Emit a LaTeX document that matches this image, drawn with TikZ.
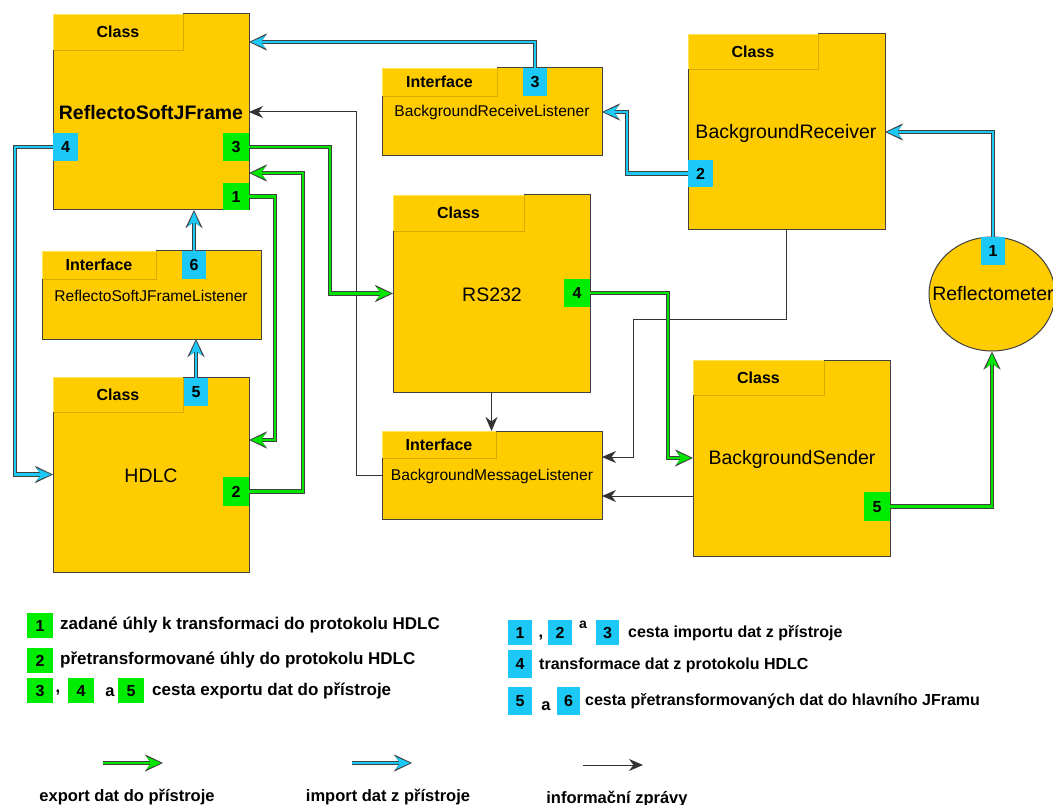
\documentclass[tikz,border=0pt]{standalone}
\usepackage{fontspec}
\setmainfont{Liberation Sans}
\usetikzlibrary{arrows.meta,calc,shapes.geometric}
\definecolor{gold}{HTML}{FFCC00}
\definecolor{goldd}{HTML}{D6AC00}
\definecolor{goldl}{HTML}{FFE45A}
\definecolor{edge}{HTML}{404040}
\definecolor{gbadge}{HTML}{00EC00}
\definecolor{cbadge}{HTML}{1CC8F5}
\definecolor{gline}{HTML}{00E600}
\definecolor{cline}{HTML}{1CC8F5}
\newcommand{\fs}[1]{\fontsize{#1}{#1}\selectfont}
\newcommand{\umlbox}[8]{%
  \node[body, minimum width=#4pt, minimum height=#5pt] (#1) at (#2,#3) {};
  \node[body, minimum width=#6pt, minimum height=#7pt] (#1-tab) at (#2,#3) {};
  \draw[goldd, line width=0.8pt] (#1-tab.south west) -- (#1-tab.south east) -- (#1-tab.north east);
  \draw[goldl, line width=0.8pt] (#1-tab.south west) -- (#1-tab.north west) -- (#1-tab.north east);
  \draw[edge, line width=1pt] (#1-tab.north east) -- (#1.north east) -- (#1.south east) -- (#1.south west) -- (#1-tab.south west);
  \node[hdr] (#1-hdr) at (#1-tab.center) {#8};
}
\tikzset{
  body/.style={fill=gold, draw=none, anchor=north west, inner sep=0pt, outer sep=0pt},
  hdr/.style={font=\fs{16}\bfseries, inner sep=0pt},
  ttl/.style={font=\fs{19.5}, inner sep=0pt},
  ttlb/.style={font=\fs{19.5}\bfseries, inner sep=0pt},
  ttls/.style={font=\fs{15.6}, inner sep=0pt},
  gbx/.style={fill=gbadge, anchor=north west, inner sep=0pt, outer sep=0pt, font=\fs{16}\bfseries, text depth=-3pt},
  cbx/.style={fill=cbadge, anchor=north west, inner sep=0pt, outer sep=0pt, font=\fs{16}\bfseries, text depth=-3pt},
  info/.style={draw=black!80, line width=1pt, -{Stealth[length=14pt, width=12pt, inset=4.5pt]}},
  flow/.style={draw=edge, line width=4.6pt, -{Stealth[length=18pt, width=17pt, inset=6pt]},
    postaction={draw=#1, line width=2.6pt, shorten >=1.9pt, -{Stealth[length=14.5pt, width=12.5pt, inset=4.6pt]}}},
  exp/.style={flow=gline},
  imp/.style={flow=cline},
  leg/.style={font=\fs{17}\bfseries, inner sep=0pt, anchor=west},
  legr/.style={font=\fs{16}\bfseries, inner sep=0pt, anchor=west},
  legc/.style={font=\fs{16.5}\bfseries, inner sep=0pt},
}
\begin{document}
\begin{tikzpicture}[x=1pt,y=-1pt]
\useasboundingbox (0,0) rectangle (1053,805);
\fill[white] (0,0) rectangle (1053,805);

% boxes
\umlbox{rsj}{53}{14}{196}{196}{130}{36}{Class}
\node[ttlb] (rsj-t) at (151,113) {ReflectoSoftJFrame};
\umlbox{rsjl}{42}{251}{219}{88}{114}{28}{Interface}
\node[ttls] (rsjl-t) at (151,296) {ReflectoSoftJFrameListener};
\umlbox{hd}{53}{377}{196}{195}{130}{35}{Class}
\node[ttl] (hd-t) at (151,476) {HDLC};
\umlbox{brl}{382}{68}{220}{88}{115}{28}{Interface}
\node[ttls] (brl-t) at (492,112) {BackgroundReceiveListener};
\umlbox{rs}{393}{195}{197}{197}{131}{36}{Class}
\node[ttl] (rs-t) at (492,295) {RS232};
\umlbox{bml}{382}{431}{220}{88}{114}{27}{Interface}
\node[ttls] (bml-t) at (492,476) {BackgroundMessageListener};
\umlbox{br}{688}{34}{197}{196}{130}{35}{Class}
\node[ttl] (br-t) at (786,133) {BackgroundReceiver};
\umlbox{bs}{693}{360}{197}{196}{131}{35}{Class}
\node[ttl] (bs-t) at (792,459) {BackgroundSender};
\node[ellipse, fill=gold, draw=edge, line width=1pt, minimum width=126pt, minimum height=114pt, inner sep=0pt] (rf) at (992,294) {};
\node[ttl] (rf-t) at (993,294) {Reflectometer};

% badges
\node[cbx, minimum width=25pt, minimum height=28pt] (rsj-b4) at (53,133) {4};
\node[gbx, minimum width=26pt, minimum height=28pt] (rsj-b3) at (223,133) {3};
\node[gbx, minimum width=26pt, minimum height=27pt] (rsj-b1) at (223,183) {1};
\node[cbx, minimum width=24pt, minimum height=28pt] (rsjl-b6) at (182,251) {6};
\node[cbx, minimum width=24pt, minimum height=28pt] (hd-b5) at (184,378) {5};
\node[gbx, minimum width=26pt, minimum height=29pt] (hd-b2) at (223,477) {2};
\node[cbx, minimum width=24pt, minimum height=28pt] (brl-b3) at (523,68) {3};
\node[gbx, minimum width=26pt, minimum height=28pt] (rs-b4) at (564,279) {4};
\node[cbx, minimum width=25pt, minimum height=27pt] (br-b2) at (688,160) {2};
\node[gbx, minimum width=26pt, minimum height=29pt] (bs-b5) at (864,492) {5};
\node[cbx, minimum width=24pt, minimum height=28pt] (rf-b1) at (981,237) {1};

% information messages (black)
\coordinate (x356) at (356,0);
\draw[info] (bml.west) -| (x356 |- rsj.east) -- (rsj.east);
\draw[info] (rs.south) -- (rs.south |- bml.north);
\coordinate (q1) at (633,320);
\coordinate (q2) at (633,457);
\draw[info] (br.south) |- (q1) -- (q2) -- (q2 -| bml.east);
\coordinate (k14) at (0,496);
\draw[info] (k14 -| bs.west) -- (k14 -| bml.east);

% export (green)
\coordinate (x330) at (330,0);
\draw[exp] (rsj-b3.east) -| (x330 |- rs.west) -- (rs.west);
\coordinate (g4) at (303,173);
\draw[exp] (hd-b2.east) -| (g4) -- (g4 -| rsj.east);
\coordinate (g5) at (275,440);
\draw[exp] (rsj-b1.east) -| (g5) -- (g5 -| hd.east);
\coordinate (x668) at (668,0);
\draw[exp] (rs-b4.east) -| (x668 |- bs.west) -- (bs.west);
\draw[exp] (bs-b5.east) -| (rf.south);

% import (cyan)
\coordinate (y42) at (0,42);
\draw[imp] (brl-b3.north) |- (y42 -| rsj.east);
\coordinate (x15) at (15,0);
\draw[imp] (rsj-b4.west) -| (x15 |- hd.west) -- (hd.west);
\draw[imp] (rsjl-b6.north) -- (rsjl-b6.north |- rsj.south);
\draw[imp] (hd-b5.north) -- (hd-b5.north |- rsjl.south);
\coordinate (x627) at (627,0);
\draw[imp] (br-b2.west) -| (x627 |- brl.east) -- (brl.east);
\draw[imp] (rf-b1.north) |- (br.east);

% legend left
\node[gbx, minimum width=26pt, minimum height=25pt] (lg1) at (27,613) {1};
\node[leg] (lg1-t) at (60,625) {zadané úhly k transformaci do protokolu HDLC};
\node[gbx, minimum width=26pt, minimum height=25pt] (lg2) at (27,648) {2};
\node[leg] (lg2-t) at (60,660) {přetransformované úhly do protokolu HDLC};
\node[gbx, minimum width=26pt, minimum height=25pt] (lg3) at (27,678) {3};
\node[legc] (lg3-c) at (58,693) {,};
\node[gbx, minimum width=26pt, minimum height=25pt] (lg4) at (68,678) {4};
\node[legc] (lg3-a) at (110,692) {a};
\node[gbx, minimum width=26pt, minimum height=25pt] (lg5) at (118,678) {5};
\node[leg] (lg3-t) at (152,691) {cesta exportu dat do přístroje};

% legend right
\node[cbx, minimum width=24pt, minimum height=25pt] (lr1) at (508,620) {1};
\node[legc] (lr1-c) at (541,638) {,};
\node[cbx, minimum width=24pt, minimum height=25pt] (lr2) at (548,620) {2};
\node[font=\fs{14}\bfseries, inner sep=0pt] (lr1-a) at (583,625) {a};
\node[cbx, minimum width=23pt, minimum height=25pt] (lr3) at (596,620) {3};
\node[legr] (lr1-t) at (628,633) {cesta importu dat z přístroje};
\node[cbx, minimum width=24pt, minimum height=28pt] (lr4) at (508,650) {4};
\node[legr] (lr4-t) at (539,665) {transformace dat z protokolu HDLC};
\node[cbx, minimum width=24pt, minimum height=28pt] (lr5) at (508,687) {5};
\node[legc] (lr5-a) at (546,706) {a};
\node[cbx, minimum width=23pt, minimum height=28pt] (lr6) at (557,687) {6};
\node[legr] (lr5-t) at (585,701) {cesta přetransformovaných dat do hlavního JFramu};

% arrow legend
\coordinate (la1) at (103,763);
\coordinate (la2) at (163,763);
\draw[exp] (la1) -- (la2);
\node[legc] (la-t) at (127,797) {export dat do přístroje};
\coordinate (lb1) at (352,763);
\coordinate (lb2) at (412,763);
\draw[imp] (lb1) -- (lb2);
\node[legc] (lb-t) at (388,797) {import dat z přístroje};
\coordinate (lc1) at (583,765);
\coordinate (lc2) at (643,765);
\draw[info] (lc1) -- (lc2);
\node[legc] (lc-t) at (617,799) {informační zprávy};
\end{tikzpicture}
\end{document}
